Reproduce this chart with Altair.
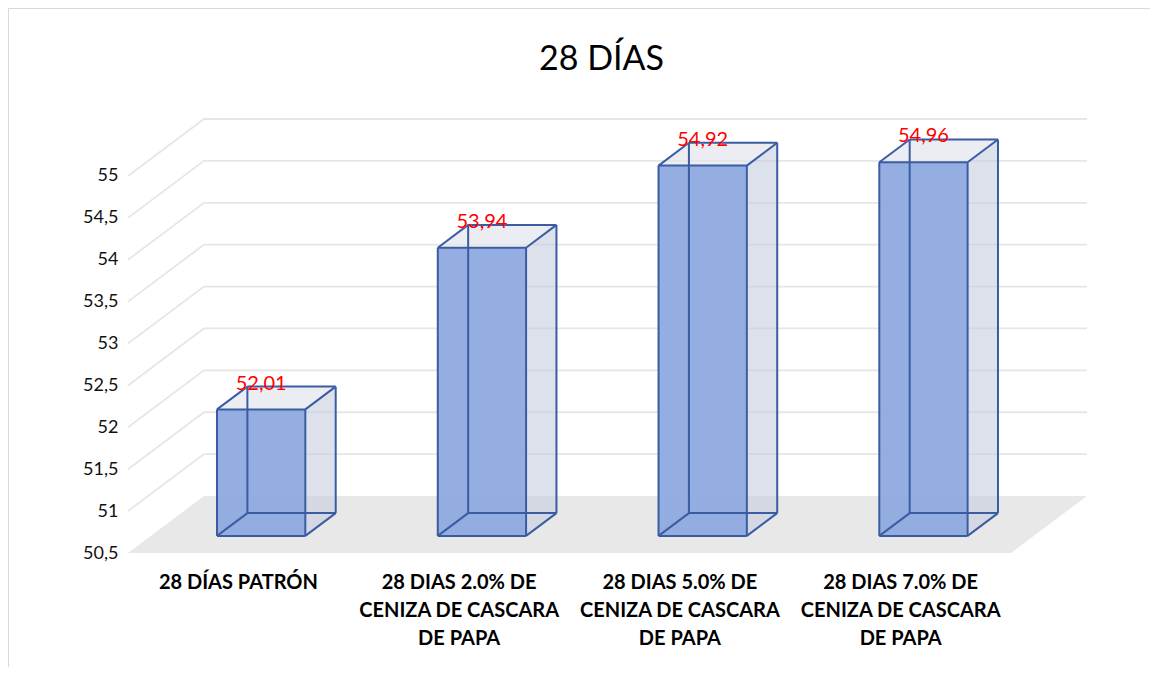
import altair as alt
import pandas as pd

# ---- data ----
categories = [
    "28 DÍAS PATRÓN",
    "28 DIAS 2.0% DE\nCENIZA DE CASCARA\nDE PAPA",
    "28 DIAS 5.0% DE\nCENIZA DE CASCARA\nDE PAPA",
    "28 DIAS 7.0% DE\nCENIZA DE CASCARA\nDE PAPA",
]
values = [52.01, 53.94, 54.92, 54.96]
y_ticks = [50.5, 51, 51.5, 52, 52.5, 53, 53.5, 54, 54.5, 55]
title_text = "28 DÍAS"

# ---- 3D projection settings (oblique) ----
BASE = 50.5
YMAX = 55
N = len(values)
DX = 0.344   # depth shift in category units
DY = 0.68    # depth shift in value units
F0, F1 = 0.3, 0.7   # bar front/back depth fractions
BAR_W = 0.4

FONT = "Lato"
EDGE = "#3b5ca3"

xs = alt.Scale(domain=[0, N + DX], nice=False, zero=False)
ys = alt.Scale(domain=[BASE, YMAX + DY], nice=False, zero=False)
y_axis = alt.Axis(values=y_ticks, domain=False, ticks=False, grid=False, title=None,
                  labelExpr="replace(toString(datum.value), '.', ',')",
                  labelFont=FONT, labelFontSize=18, labelColor="#111111",
                  labelPadding=10)

# floor
floor_df = pd.DataFrame({
    "x": [0, DX, N, N + DX],
    "y": [BASE, BASE, BASE, BASE + DY],
    "y2": [BASE, BASE + DY, BASE + DY, BASE + DY],
})

# gridlines (side wall diagonal + back wall horizontal)
g_rows = []
for t in y_ticks[1:]:
    g_rows += [
        {"g": t, "o": 0, "x": 0, "y": t},
        {"g": t, "o": 1, "x": DX, "y": t + DY},
        {"g": t, "o": 2, "x": N + DX, "y": t + DY},
    ]
grid_df = pd.DataFrame(g_rows)

fx, fy = F0 * DX, F0 * DY
bx, by = F1 * DX, F1 * DY
side_rows, top_rows, front_rows, edge_rows, lab_rows, cat_rows = [], [], [], [], [], []
eid = 0
for i, v in enumerate(values):
    xl = i + 0.5 - BAR_W / 2
    xr = i + 0.5 + BAR_W / 2
    side_rows += [
        {"b": i, "x": xr + fx, "y": BASE + fy, "y2": v + fy},
        {"b": i, "x": xr + bx, "y": BASE + by, "y2": v + by},
    ]
    top_rows += [
        {"b": i, "x": xl + fx, "y": v + fy, "y2": v + fy},
        {"b": i, "x": xl + bx, "y": v + fy, "y2": v + by},
        {"b": i, "x": xr + fx, "y": v + fy, "y2": v + by},
        {"b": i, "x": xr + bx, "y": v + by, "y2": v + by},
    ]
    front_rows.append({"x": xl + fx, "x2": xr + fx, "y": BASE + fy, "y2": v + fy})
    P = {
        "FLB": (xl + fx, BASE + fy), "FRB": (xr + fx, BASE + fy),
        "FLT": (xl + fx, v + fy), "FRT": (xr + fx, v + fy),
        "BLB": (xl + bx, BASE + by), "BRB": (xr + bx, BASE + by),
        "BLT": (xl + bx, v + by), "BRT": (xr + bx, v + by),
    }
    pairs = [("FLB", "FRB"), ("FRB", "FRT"), ("FRT", "FLT"), ("FLT", "FLB"),
             ("BLB", "BRB"), ("BRB", "BRT"), ("BRT", "BLT"), ("BLT", "BLB"),
             ("FLB", "BLB"), ("FRB", "BRB"), ("FRT", "BRT"), ("FLT", "BLT")]
    for a, c in pairs:
        edge_rows.append({"e": eid, "o": 0, "x": P[a][0], "y": P[a][1]})
        edge_rows.append({"e": eid, "o": 1, "x": P[c][0], "y": P[c][1]})
        eid += 1
    lab_rows.append({"x": i + 0.5 + fx, "y": v + by,
                     "t": f"{v:.2f}".replace(".", ",")})
    cat_rows.append({"x": i + 0.5, "y": BASE, "t": categories[i]})

side_df = pd.DataFrame(side_rows)
top_df = pd.DataFrame(top_rows)
front_df = pd.DataFrame(front_rows)
edge_df = pd.DataFrame(edge_rows)
lab_df = pd.DataFrame(lab_rows)
cat_df = pd.DataFrame(cat_rows)


def X(f="x"):
    return alt.X(f"{f}:Q", scale=xs, axis=None)


def Y(f="y"):
    return alt.Y(f"{f}:Q", scale=ys, axis=y_axis, stack=None)


floor = alt.Chart(floor_df).mark_area(color="#e8e8e8", opacity=1).encode(
    x=X(), y=Y(), y2="y2:Q",
)

grid = alt.Chart(grid_df).mark_line(color="#e6e6e6", strokeWidth=1.8).encode(
    x=X(), y=Y(), detail="g:N", order="o:Q"
)

side = alt.Chart(side_df).mark_area(color="#c5cde0", opacity=0.6).encode(
    x=X(), y=Y(), y2="y2:Q", detail="b:N"
)
top = alt.Chart(top_df).mark_area(color="#e3e6ee", opacity=0.7).encode(
    x=X(), y=Y(), y2="y2:Q", detail="b:N"
)
front = alt.Chart(front_df).mark_rect(color="#8eaadf", opacity=0.95).encode(
    x=X(), x2="x2:Q", y=Y(), y2="y2:Q"
)
edges = alt.Chart(edge_df).mark_line(color=EDGE, strokeWidth=2).encode(
    x=X(), y=Y(), detail="e:N", order="o:Q"
)
labels = alt.Chart(lab_df).mark_text(
    color="#ff0000", font=FONT, fontSize=20, baseline="middle", dy=-3
).encode(x=X(), y=Y(), text="t:N")

cats = alt.Chart(cat_df).mark_text(
    font=FONT, fontSize=20, fontWeight="bold", color="#000000",
    baseline="top", align="center", lineBreak="\n", lineHeight=28, dy=20
).encode(x=X(), y=Y(), text="t:N")

frame_top = alt.Chart(floor_df.head(1)).mark_rule(color="#d9d9d9", strokeWidth=1).encode(
    x=alt.value(-119.5), x2=alt.value(1030), y=alt.value(-110.5)
)
frame_left = alt.Chart(floor_df.head(1)).mark_rule(color="#d9d9d9", strokeWidth=1).encode(
    x=alt.value(-119.5), y=alt.value(-110.5), y2=alt.value(560)
)

chart = alt.layer(
    floor, grid, side, top, front, edges, labels, cats, frame_top, frame_left
).properties(
    width=959, height=434,
    title=alt.TitleParams(title_text, font=FONT, fontSize=34, fontWeight="normal",
                          color="#000000", anchor="middle", frame="group",
                          baseline="alphabetic", offset=-96, dx=-6),
    autosize=alt.AutoSizeParams(type="none"),
    padding={"left": 120, "top": 111, "right": 63, "bottom": 114},
).configure_view(stroke=None)

chart.save("out.html", embed_options={"renderer": "svg", "actions": False})
